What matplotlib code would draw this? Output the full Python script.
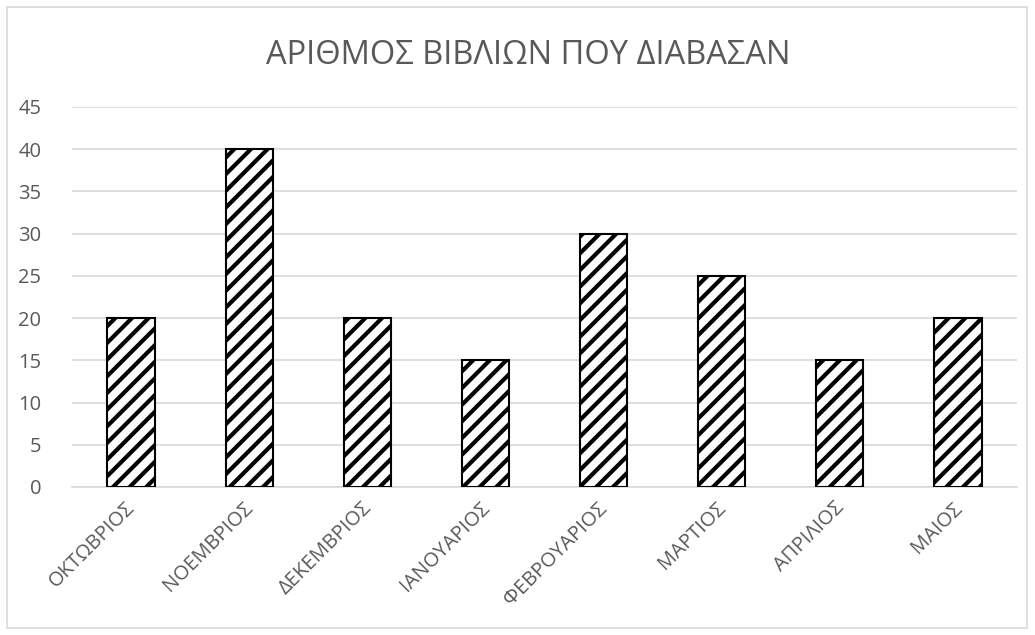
import matplotlib.pyplot as plt
from matplotlib.patches import Rectangle
from matplotlib.transforms import ScaledTranslation

months = ['ΟΚΤΩΒΡΙΟΣ', 'ΝΟΕΜΒΡΙΟΣ', 'ΔΕΚΕΜΒΡΙΟΣ', 'ΙΑΝΟΥΑΡΙΟΣ',
          'ΦΕΒΡΟΥΑΡΙΟΣ', 'ΜΑΡΤΙΟΣ', 'ΑΠΡΙΛΙΟΣ', 'ΜΑΙΟΣ']
books = [20, 40, 20, 15, 30, 25, 15, 20]
yticks = [0, 5, 10, 15, 20, 25, 30, 35, 40, 45]

plt.rcParams['font.family'] = ['Open Sans', 'DejaVu Sans']
plt.rcParams['hatch.linewidth'] = 3.0
plt.rcParams['hatch.color'] = 'black'

fig = plt.figure(figsize=(10.35, 6.35), dpi=100)
ax = fig.add_axes([72 / 1035, 1 - 487 / 635, 945 / 1035, 380 / 635])

# outer chart border
fig.patches.append(Rectangle((7 / 1035, 7 / 635), 1020 / 1035, 621 / 635,
                             transform=fig.transFigure, fill=False,
                             edgecolor='#d9d9d9', linewidth=1.2))

x = range(len(months))
ax.bar(x, books, width=0.4, color='white', edgecolor='black',
       linewidth=1.5, hatch='//', zorder=3)

ax.set_xlim(-0.5, len(months) - 0.5)
ax.set_ylim(0, 45)
ax.set_yticks(yticks)
ax.set_xticks(list(x))
ax.set_xticklabels(months, rotation=45, ha='right', rotation_mode='anchor')
ax.tick_params(axis='both', length=0, labelsize=14.5, colors='#595959')
ax.tick_params(axis='y', pad=22)
ax.tick_params(axis='x', pad=8)
# nudge rotated labels a little left, like the original
shift = ScaledTranslation(-6 / 100, 0, fig.dpi_scale_trans)
for lbl in ax.get_xticklabels():
    lbl.set_transform(lbl.get_transform() + shift)
ax.grid(axis='y', color='#d9d9d9', linewidth=1.2, zorder=0)
for s in ['top', 'right', 'left']:
    ax.spines[s].set_visible(False)
ax.spines['bottom'].set_color('#d9d9d9')
ax.spines['bottom'].set_linewidth(1.2)

fig.text(0.51, 1 - 55 / 635, 'ΑΡΙΘΜΟΣ ΒΙΒΛΙΩΝ ΠΟΥ ΔΙΑΒΑΣΑΝ', ha='center',
         va='center', fontsize=23.5, color='#595959')

fig.savefig('out.png', dpi=100)
